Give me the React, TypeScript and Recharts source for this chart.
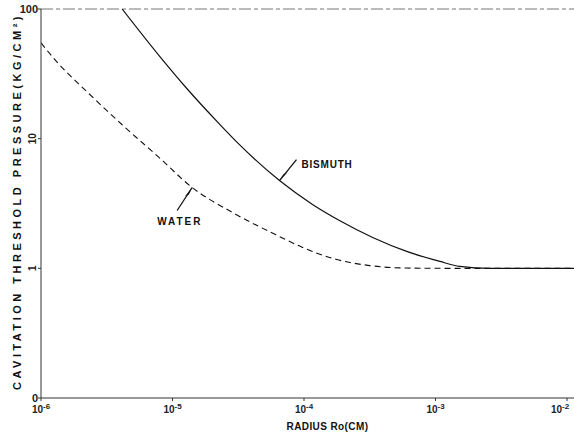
import React from "react";
import {
	LineChart,
	XAxis,
	YAxis,
	Line,
	ReferenceLine,
	ReferenceDot,
} from "recharts";

// radius (cm) vs cavitation threshold pressure (kg/cm^2)
const bismuthRadius = [4.14e-6, 7.93e-6, 1.27e-5, 2.27e-5, 3.23e-5, 6.51e-5, 1.16e-4, 1.86e-4, 3.33e-4, 6.04e-4, 1.08e-3, 1.53e-3, 2.59e-3, 1.13e-2];
const bismuthPressure = [100, 43.5, 24.7, 13.0, 8.99, 4.75, 3.11, 2.34, 1.73, 1.35, 1.13, 1.035, 1.0, 1.0];

const waterRadius = [1e-6, 1.3e-6, 2.32e-6, 4.14e-6, 7.93e-6, 1.41e-5, 2.85e-5, 6.28e-5, 9.75e-5, 1.77e-4, 3.16e-4, 6.04e-4, 1.29e-3, 1.13e-2];
const waterPressure = [54.8, 39.8, 22.2, 12.8, 7.14, 4.2, 2.7, 1.79, 1.45, 1.17, 1.05, 1.005, 1.0, 1.0];

const xTicks = [1e-6, 1e-5, 1e-4, 1e-3, 1e-2];
const xTickExp = ["-6", "-5", "-4", "-3", "-2"];
const yTicks = [0.1, 1, 10, 100];
const yTickLabels = ["0", "1", "10", "100"];

const bismuthData = bismuthRadius.map((r, i) => ({ r, p: bismuthPressure[i] }));
const waterData = waterRadius.map((r, i) => ({ r, p: waterPressure[i] }));

const font = "'Liberation Sans', Arial, sans-serif";

function XTick(props: any) {
	const { x, y, payload } = props;
	const i = xTicks.indexOf(payload.value);
	return (
		<text x={x} y={y + 10} textAnchor="middle" fontFamily={font} fontSize={10} fontWeight="bold" fill="#222">
			<tspan>10</tspan>
			<tspan dy={-4} fontSize={8}>{xTickExp[i]}</tspan>
		</text>
	);
}

function YTick(props: any) {
	const { x, y, payload } = props;
	const i = yTicks.indexOf(payload.value);
	const label = yTickLabels[i];
	if (payload.value === 100 || payload.value === 0.1) {
		return (
			<text x={x + 2} y={y + 4} textAnchor="end" fontFamily={font} fontSize={11} fontWeight="bold" fill="#222">
				{label}
			</text>
		);
	}
	return (
		<text x={x} y={y} transform={`rotate(-90 ${x} ${y})`} textAnchor="middle" fontFamily={font} fontSize={10} fontWeight="bold" fill="#222">
			{label}
		</text>
	);
}

function YLabel(props: any) {
	const { viewBox } = props;
	const cx = 17;
	const cy = viewBox.y + viewBox.height / 2 - 2;
	return (
		<text x={cx} y={cy} transform={`rotate(-90 ${cx} ${cy})`} textAnchor="middle" dominantBaseline="central" fontFamily={font} fontSize={11} fontWeight="bold" fill="#111" letterSpacing={3.5}>
			CAVITATION THRESHOLD PRESSURE(KG/CM²)
		</text>
	);
}

function Callout(props: any) {
	const { cx, cy, text, dx, dy, tx, ty, ls } = props;
	return (
		<g>
			<line x1={cx} y1={cy} x2={cx + dx} y2={cy + dy} stroke="#111" strokeWidth={1.3} />
			<polygon points={`${cx},${cy} ${cx + dx * 0.35 - 2},${cy + dy * 0.35 + 1} ${cx + dx * 0.35 + 2},${cy + dy * 0.35 - 1}`} fill="#111" />
			<text x={cx + tx} y={cy + ty} fontFamily={font} fontSize={10} fontWeight="bold" fill="#111" letterSpacing={ls}>
				{text}
			</text>
		</g>
	);
}

export default function App() {
	return (
		<div style={{ position: "absolute", left: 0, top: 0, background: "#fff" }}>
			<LineChart width={574} height={434} margin={{ top: 9, right: 0, left: 0, bottom: 0 }}>
				<XAxis
					dataKey="r"
					type="number"
					scale="log"
					domain={[1e-6, 0.0113]}
					ticks={xTicks}
					tick={<XTick />}
					height={36}
					stroke="#333"
					tickSize={3}
					allowDataOverflow
					label={{ value: "RADIUS Ro(CM)", position: "insideBottom", offset: 4, dx: 20, fontFamily: font, fontSize: 10, fontWeight: "bold", fill: "#111", letterSpacing: 0.4 }}
				/>
				<YAxis
					type="number"
					scale="log"
					domain={[0.1, 100]}
					ticks={yTicks}
					tick={<YTick />}
					width={41}
					stroke="#333"
					tickSize={3}
					allowDataOverflow
					label={<YLabel />}
				/>
				<ReferenceLine y={100} stroke="#777" strokeDasharray="12 3 4 3" />
				<Line data={waterData} dataKey="p" type="monotone" stroke="#111" strokeWidth={1.1} strokeDasharray="6 4" dot={false} isAnimationActive={false} />
				<Line data={bismuthData} dataKey="p" type="monotone" stroke="#111" strokeWidth={1.2} dot={false} isAnimationActive={false} />
				<ReferenceDot x={6.51e-5} y={4.75} r={0} shape={(p: any) => <Callout {...p} text="BISMUTH" dx={17} dy={-21} tx={22} ty={-13} ls={0.8} />} />
				<ReferenceDot x={1.41e-5} y={4.2} r={0} shape={(p: any) => <Callout {...p} text="WATER" dx={-15} dy={23} tx={-35} ty={37} ls={2} />} />
			</LineChart>
		</div>
	);
}
